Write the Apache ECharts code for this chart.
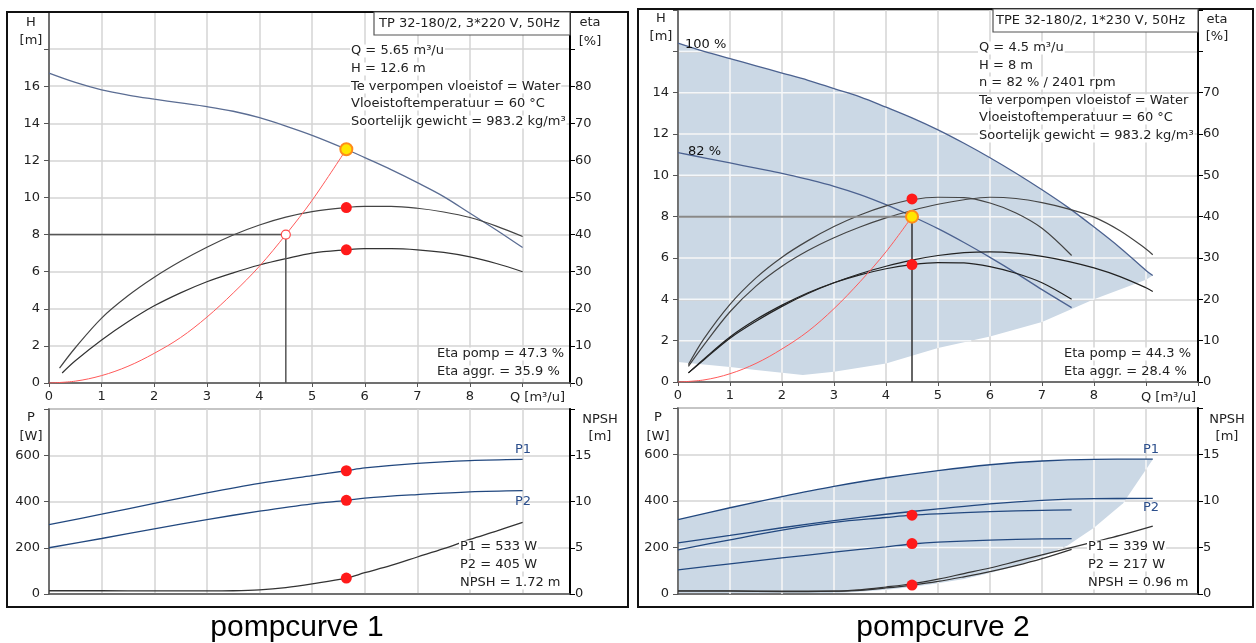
<!DOCTYPE html>
<html><head><meta charset="utf-8">
<script src="https://cdn.jsdelivr.net/npm/echarts@6/dist/echarts.min.js"></script>
<style>html,body{margin:0;padding:0;background:#fff}#c{width:1256px;height:643px}</style>
</head><body><div id="c"></div><script>
const FONT = '"DejaVu Sans", Verdana, sans-serif';
const CAPFONT = '"Liberation Sans", Arial, sans-serif';
// ---------- tick labels ----------
const qTickLabels = [0,1,2,3,4,5,6,7,8];
const hTickLabels1 = [0,2,4,6,8,10,12,14,16];
const etaTickLabels1 = [0,10,20,30,40,50,60,70,80];
const hTickLabels2 = [0,2,4,6,8,10,12,14];
const etaTickLabels2 = [0,10,20,30,40,50,60,70];
const pTickLabels = [0,200,400,600];
const npshTickLabels = [0,5,10,15];
const qGrid = [1,2,3,4,5,6,7,8,9];
const hGrid2 = [2,4,6,8,10,12,14,16];
const pGrid = [200,400,600];

// ---------- pompcurve 1 ----------
const p1_hQ = [0,0.5,1,1.5,2,2.5,3,3.5,4,4.5,5,5.65,6,6.5,7,7.5,8,8.5,9];
const p1_h  = [16.7,16.2,15.8,15.52,15.3,15.1,14.9,14.65,14.3,13.85,13.35,12.6,12.15,11.5,10.8,10.05,9.15,8.25,7.3];
const p1_etaQ = [0.2,0.5,1,1.5,2,2.5,3,3.5,4,4.5,5,5.65,6,6.5,7,7.5,8,8.5,9];
const p1_etaPomp = [4,9.5,17.5,23.5,28.5,32.8,36.6,39.9,42.6,44.7,46.2,47.3,47.6,47.6,47.1,46.1,44.6,42.3,39.5];
const p1_aggrQ = [0.25,0.5,1,1.5,2,2.5,3,3.5,4,4.5,5,5.65,6,6.5,7,7.5,8,8.5,9];
const p1_etaAggr = [2.7,6,11.6,16.5,20.8,24.3,27.3,29.7,31.8,33.5,35,35.9,36.2,36.2,35.9,35.2,34,32.2,30];
const p1_sysQ = [0,0.5,1,1.5,2,2.5,3,3.5,4,4.5,5,5.65];
const p1_sysH = [0,0.1,0.4,0.9,1.6,2.45,3.55,4.85,6.3,8.0,9.85,12.6];
const p1_opQ = [0,4.5,4.5];
const p1_opH = [8,8,0];
const p1_pQ = [0,1,2,3,4,5,5.65,6,7,8,9];
const p1_P1 = [300,345,392,437,478,512,533,545,565,577,582];
const p1_P2 = [200,240,282,322,358,390,405,415,430,442,447];
const p1_nQ = [0,1,2,3,3.5,4,4.5,5,5.65,6,6.5,7,7.5,8,8.5,9];
const p1_npsh = [0.35,0.35,0.33,0.33,0.35,0.45,0.7,1.1,1.72,2.3,3.1,4.0,4.9,5.9,6.8,7.75];
const p1_dutyQ = 5.65, p1_dutyH = 12.6, p1_dutyEtaPomp = 47.3, p1_dutyEtaAggr = 35.9;
const p1_dutyP1 = 533, p1_dutyP2 = 405, p1_dutyNpsh = 1.72;
const p1_reqQ = 4.5, p1_reqH = 8;

// ---------- pompcurve 2 ----------
const p2_h100Q = [0,0.5,1,1.5,2,2.5,3,3.5,4,4.5,5,5.5,6,6.5,7,7.5,8,8.5,9,9.13];
const p2_h100  = [16.4,16.0,15.65,15.3,14.95,14.6,14.2,13.8,13.3,12.78,12.2,11.55,10.85,10.1,9.3,8.45,7.5,6.5,5.4,5.15];
const p2_h82Q = [0,0.5,1,1.5,2,2.5,3,3.5,4,4.5,5,5.5,6,6.5,7,7.57];
const p2_h82  = [11.1,10.85,10.6,10.35,10.1,9.8,9.47,9.07,8.58,8.02,7.42,6.75,6.03,5.27,4.47,3.6];
const p2_minQ = [0,0.5,1,1.5,2,2.4,3,4,5,6,7,8,9,9.13];
const p2_minH = [0.97,0.85,0.72,0.58,0.45,0.34,0.5,0.9,1.65,2.2,2.9,4.0,4.95,5.15];
const p2_pomp82Q = [0.2,0.5,1,1.5,2,2.5,3,3.5,4,4.5,5,5.5,6,6.5,7,7.57];
const p2_pomp82 = [4.2,10.5,18.8,25.2,30.2,34.2,37.6,40.4,42.6,44.1,44.7,44.6,43.3,40.9,37.2,30.6];
const p2_pomp100Q = [0.2,0.5,1,1.5,2,2.5,3,3.5,4,4.5,5,5.5,6,6.5,7,7.5,8,8.5,9,9.13];
const p2_pomp100 = [3.8,9.0,17.0,23.2,28.0,31.8,34.9,37.5,39.7,41.5,43.0,44.1,44.7,44.4,43.4,41.9,39.9,36.6,32.2,30.8];
const p2_aggr82Q = [0.2,0.5,1,1.5,2,2.5,3,3.5,4,4.5,5,5.5,6,6.5,7,7.57];
const p2_aggr82 = [2.2,5.6,10.9,15.1,18.6,21.6,24.0,25.9,27.4,28.4,28.9,28.8,27.9,26.3,24.0,20.0];
const p2_aggr100Q = [0.2,0.5,1,1.5,2,2.5,3,3.5,4,4.5,5,5.5,6,6.5,7,7.5,8,8.5,9,9.13];
const p2_aggr100 = [2.2,5.4,10.6,14.7,18.3,21.4,24.0,26.2,28.0,29.5,30.6,31.3,31.5,31.2,30.4,29.2,27.6,25.5,22.8,21.9];
const p2_sysQ = [0,0.5,1,1.5,2,2.5,3,3.5,4,4.5];
const p2_sysH = [0,0.1,0.4,0.9,1.6,2.45,3.55,4.85,6.3,8.0];
const p2_opHQ = [0,4.5];
const p2_opHH = [8,8];
const p2_opVQ = [4.5,4.5];
const p2_opVH = [8,0];
const p2_p100Q = [0,1,2,3,4,5,6,7,8,9.13];
const p2_P1_100 = [320,371,419,463,500,531,556,572,579,580];
const p2_P2_100 = [220,252,285,316,343,366,388,403,410,411];
const p2_p82Q = [0,1,2,3,4,4.5,5,6,7,7.57];
const p2_P1_82 = [190,233,275,308,329,339,345,354,360,362];
const p2_P2_82 = [104,130,155,180,203,215,223,232,237,238];
const p2_pMinQ = [0,2,3,3.5,4,4.5,5,5.5,6,6.5,7,7.5,8,8.56,9.13];
const p2_pMin = [0,0,4,10,18,30,46,65,90,122,160,210,285,390,578];
const p2_n100Q = [0,1,2,3,3.5,4,4.5,5,5.5,6,6.5,7,7.5,8,8.5,9.13];
const p2_npsh100 = [0.35,0.35,0.3,0.3,0.45,0.75,1.1,1.6,2.2,2.8,3.5,4.2,4.9,5.6,6.3,7.3];
const p2_n82Q = [0,1,2,3,3.5,4,4.5,5,5.5,6,6.5,7,7.57];
const p2_npsh82 = [0.3,0.3,0.25,0.3,0.4,0.65,0.96,1.35,1.85,2.4,3.05,3.8,4.8];
const p2_dutyQ = 4.5, p2_dutyH = 8, p2_dutyEtaPomp = 44.3, p2_dutyEtaAggr = 28.4;
const p2_dutyP1 = 339, p2_dutyP2 = 217, p2_dutyNpsh = 0.96;

// ---------- helpers ----------
const zip = (xs, ys) => xs.map((x, i) => [x, ys[i]]);
function interp(xs, ys, x) {
  if (x <= xs[0]) return ys[0];
  for (let i = 1; i < xs.length; i++) {
    if (x <= xs[i]) { const t = (x - xs[i-1]) / (xs[i] - xs[i-1]); return ys[i-1] + t * (ys[i] - ys[i-1]); }
  }
  return ys[ys.length - 1];
}
const GRIDC = '#d4d4d4', SHADE = '#cbd8e5';

function xAx(grid, max, showLabels) {
  return {type:'value', gridIndex:grid, min:0, max:max, interval:1, z:2,
    axisLine:{show:true, onZero:false, lineStyle:{color:'#555', width:1.5}},
    axisTick:{show:showLabels, length:4, lineStyle:{color:'#555'}},
    axisLabel:{show:showLabels, color:'#222', fontSize:13, fontFamily:FONT, margin:7,
      formatter:v => qTickLabels.includes(v) ? String(v) : ''},
    splitLine:{show:true, lineStyle:{color:GRIDC, width:1.5}}};
}
function yAx(grid, pos, max, interval, labels, split) {
  const right = pos === 'right';
  return {type:'value', gridIndex:grid, position:pos, min:0, max:max, interval:interval, z:2,
    axisLine:{show:true, onZero:false, lineStyle:{color:right?'#000':'#555', width:right?2:1.5}},
    axisTick:{show:true, length:5, lineStyle:{color:right?'#000':'#555'}},
    axisLabel:{color:'#222', fontSize:13, fontFamily:FONT, margin:right ? 5 : 9,
      formatter:v => labels.includes(v) ? String(v) : ''},
    splitLine:{show:split, lineStyle:{color:GRIDC, width:1.5}}};
}
function line(xi, yi, xs, ys, color, width, z) {
  return {type:'line', xAxisIndex:xi, yAxisIndex:yi, data:zip(xs, ys), showSymbol:false, smooth:0.35,
    lineStyle:{color:color, width:width}, z:z || 3, silent:true};
}
function dots(xi, yi, pts, size, color, border, bw) {
  return {type:'scatter', xAxisIndex:xi, yAxisIndex:yi, data:pts, symbolSize:size, z:6, silent:true,
    itemStyle:{color:color, borderColor:border || color, borderWidth:bw || 0, opacity:1}};
}
function shadePoly(xi, yi, uQ, uV, lQ, lV) {
  return {type:'custom', xAxisIndex:xi, yAxisIndex:yi, data:[[0,0]], z:1, silent:true,
    renderItem:(p, api) => {
      const pts = [];
      for (let i = 0; i < uQ.length; i++) pts.push(api.coord([uQ[i], uV[i]]));
      for (let i = lQ.length - 1; i >= 0; i--) pts.push(api.coord([lQ[i], lV[i]]));
      return {type:'polygon', shape:{points:pts}, style:{fill:SHADE, stroke:null}};
    }};
}
function shadeGrid(xi, yi, uQ, uV, lQ, lV, vLines, hLines) {
  return {type:'custom', xAxisIndex:xi, yAxisIndex:yi, data:[[0,0]], z:2.5, silent:true,
    renderItem:(p, api) => {
      const ch = [];
      const qmax = Math.min(uQ[uQ.length-1], lQ[lQ.length-1]);
      const seg = (a, b) => ch.push({type:'line', shape:{x1:a[0], y1:a[1], x2:b[0], y2:b[1]},
        style:{stroke:'#f4f7fa', lineWidth:1.5}});
      vLines.forEach(q => { if (q < qmax) seg(api.coord([q, interp(lQ, lV, q)]), api.coord([q, interp(uQ, uV, q)])); });
      const st = 0.005;
      hLines.forEach(v => {
        let s = null;
        for (let q = 0.02; q <= qmax + 1e-9; q += st) {
          const inside = interp(lQ, lV, q) < v && interp(uQ, uV, q) > v;
          if (inside && s === null) s = q;
          if (s !== null && (!inside || q + st > qmax)) { seg(api.coord([s, v]), api.coord([q, v])); s = null; }
        }
      });
      return {type:'group', children:ch};
    }};
}
function txt(x, y, s, opts) {
  opts = opts || {};
  const style = {text:s, fill:opts.color || '#222', font:(opts.size || 13) + 'px ' + (opts.font || FONT),
    textAlign:opts.align || 'left', align:opts.align || 'left',
    textVerticalAlign:'middle', verticalAlign:'middle'};
  if (opts.bg) { style.backgroundColor = '#fff'; style.padding = [0, 1]; }
  return {type:'text', x:x, y:y, z:100, style:style};
}

// ---------- option ----------
const option = {
  animation:false,
  grid:[
    {left:49, top:12, width:521, height:371, show:true, borderColor:'#666', borderWidth:1.5},
    {left:49, top:409, width:521, height:185, show:true, borderColor:'#777', borderWidth:1.5},
    {left:678, top:10, width:520, height:372, show:true, borderColor:'#666', borderWidth:1.5},
    {left:678, top:408, width:520, height:186, show:true, borderColor:'#777', borderWidth:1.5}
  ],
  xAxis:[xAx(0, 9.9, true), xAx(1, 9.9, false), xAx(2, 10, true), xAx(3, 10, false)],
  yAxis:[
    yAx(0, 'left', 20, 2, hTickLabels1, true),
    yAx(0, 'right', 100, 10, etaTickLabels1, false),
    yAx(1, 'left', 800, 200, pTickLabels, true),
    yAx(1, 'right', 20, 5, npshTickLabels, false),
    yAx(2, 'left', 18, 2, hTickLabels2, true),
    yAx(2, 'right', 90, 10, etaTickLabels2, false),
    yAx(3, 'left', 800, 200, pTickLabels, true),
    yAx(3, 'right', 20, 5, npshTickLabels, false)
  ],
  series:[
    // panel 1 top
    line(0, 0, p1_hQ, p1_h, '#5b6d93', 1.3),
    line(0, 1, p1_etaQ, p1_etaPomp, '#444', 1.2),
    line(0, 1, p1_aggrQ, p1_etaAggr, '#333', 1.2),
    line(0, 0, p1_sysQ, p1_sysH, '#ff5a5a', 1),
    {type:'line', xAxisIndex:0, yAxisIndex:0, data:zip(p1_opQ, p1_opH), showSymbol:false, z:3, silent:true, lineStyle:{color:'#555', width:1.5}},
    dots(0, 0, [[p1_reqQ, p1_reqH]], 9, '#fff', '#ff4a4a', 1.2),
    dots(0, 0, [[p1_dutyQ, p1_dutyH]], 12, '#ffe600', '#ff8c1a', 2),
    dots(0, 1, [[p1_dutyQ, p1_dutyEtaPomp], [p1_dutyQ, p1_dutyEtaAggr]], 11, '#ff1a1a'),
    // panel 1 bottom
    line(1, 2, p1_pQ, p1_P1, '#22487f', 1.3),
    line(1, 2, p1_pQ, p1_P2, '#22487f', 1.3),
    line(1, 3, p1_nQ, p1_npsh, '#333', 1.3),
    dots(1, 2, [[p1_dutyQ, p1_dutyP1], [p1_dutyQ, p1_dutyP2]], 11, '#ff1a1a'),
    dots(1, 3, [[p1_dutyQ, p1_dutyNpsh]], 11, '#ff1a1a'),
    // panel 2 top
    shadePoly(2, 4, p2_h100Q, p2_h100, p2_minQ, p2_minH),
    shadeGrid(2, 4, p2_h100Q, p2_h100, p2_minQ, p2_minH, qGrid, hGrid2),
    line(2, 4, p2_h100Q, p2_h100, '#4c6290', 1.3),
    line(2, 4, p2_h82Q, p2_h82, '#4c6290', 1.3),
    line(2, 5, p2_pomp82Q, p2_pomp82, '#444', 1.2),
    line(2, 5, p2_pomp100Q, p2_pomp100, '#444', 1.2),
    line(2, 5, p2_aggr82Q, p2_aggr82, '#222', 1.2),
    line(2, 5, p2_aggr100Q, p2_aggr100, '#222', 1.2),
    line(2, 4, p2_sysQ, p2_sysH, '#ff5a5a', 1),
    {type:'line', xAxisIndex:2, yAxisIndex:4, data:zip(p2_opHQ, p2_opHH), showSymbol:false, z:3, silent:true, lineStyle:{color:'#888', width:2}},
    {type:'line', xAxisIndex:2, yAxisIndex:4, data:zip(p2_opVQ, p2_opVH), showSymbol:false, z:3, silent:true, lineStyle:{color:'#333', width:1.5}},
    dots(2, 4, [[p2_dutyQ, p2_dutyH]], 12, '#ffe600', '#ff8c1a', 2),
    dots(2, 5, [[p2_dutyQ, p2_dutyEtaPomp], [p2_dutyQ, p2_dutyEtaAggr]], 11, '#ff1a1a'),
    // panel 2 bottom
    shadePoly(3, 6, p2_p100Q, p2_P1_100, p2_pMinQ, p2_pMin),
    shadeGrid(3, 6, p2_p100Q, p2_P1_100, p2_pMinQ, p2_pMin, qGrid, pGrid),
    line(3, 6, p2_p100Q, p2_P1_100, '#22487f', 1.3),
    line(3, 6, p2_p100Q, p2_P2_100, '#22487f', 1.3),
    line(3, 6, p2_p82Q, p2_P1_82, '#22487f', 1.3),
    line(3, 6, p2_p82Q, p2_P2_82, '#22487f', 1.3),
    line(3, 7, p2_n100Q, p2_npsh100, '#333', 1.2),
    line(3, 7, p2_n82Q, p2_npsh82, '#333', 1.2),
    dots(3, 6, [[p2_dutyQ, p2_dutyP1], [p2_dutyQ, p2_dutyP2]], 11, '#ff1a1a'),
    dots(3, 7, [[p2_dutyQ, p2_dutyNpsh]], 11, '#ff1a1a')
  ],
  graphic:{elements:[
    {type:'rect', z:90, shape:{x:7, y:12, width:621, height:595}, style:{fill:'none', stroke:'#111', lineWidth:2}},
    {type:'rect', z:90, shape:{x:638, y:9, width:615, height:598}, style:{fill:'none', stroke:'#111', lineWidth:2}},
    {type:'rect', z:95, shape:{x:374, y:12, width:196, height:23}, style:{fill:'#fff', stroke:'#555', lineWidth:1.2}},
    {type:'rect', z:95, shape:{x:993, y:9, width:205, height:23}, style:{fill:'#fff', stroke:'#555', lineWidth:1.2}},
    txt(379, 24, 'TP 32-180/2, 3*220 V, 50Hz'),
    txt(996, 21, 'TPE 32-180/2, 1*230 V, 50Hz'),
    // panel 1 info
    txt(350, 51, 'Q = 5.65 m³/u', {bg:1}),
    txt(350, 69, 'H = 12.6 m', {bg:1}),
    txt(350, 87, 'Te verpompen vloeistof = Water', {bg:1}),
    txt(350, 104, 'Vloeistoftemperatuur = 60 °C', {bg:1}),
    txt(350, 122, 'Soortelijk gewicht = 983.2 kg/m³', {bg:1}),
    txt(436, 354, 'Eta pomp = 47.3 %', {bg:1}),
    txt(436, 372, 'Eta aggr. = 35.9 %', {bg:1}),
    txt(459, 547, 'P1 = 533 W', {bg:1}),
    txt(459, 565, 'P2 = 405 W', {bg:1}),
    txt(459, 583, 'NPSH = 1.72 m', {bg:1}),
    // panel 2 info
    txt(978, 48, 'Q = 4.5 m³/u', {bg:1}),
    txt(978, 66, 'H = 8 m', {bg:1}),
    txt(978, 83, 'n = 82 % / 2401 rpm', {bg:1}),
    txt(978, 101, 'Te verpompen vloeistof = Water', {bg:1}),
    txt(978, 118, 'Vloeistoftemperatuur = 60 °C', {bg:1}),
    txt(978, 136, 'Soortelijk gewicht = 983.2 kg/m³', {bg:1}),
    txt(1063, 354, 'Eta pomp = 44.3 %', {bg:1}),
    txt(1063, 372, 'Eta aggr. = 28.4 %', {bg:1}),
    txt(1087, 547, 'P1 = 339 W', {bg:1}),
    txt(1087, 565, 'P2 = 217 W', {bg:1}),
    txt(1087, 583, 'NPSH = 0.96 m', {bg:1}),
    // curve labels
    txt(685, 45, '100 %', {color:'#111'}),
    txt(688, 152, '82 %', {color:'#111'}),
    txt(523, 450, 'P1', {align:'center', color:'#2c4f8c'}),
    txt(523, 502, 'P2', {align:'center', color:'#2c4f8c'}),
    txt(1151, 450, 'P1', {align:'center', color:'#2c4f8c'}),
    txt(1151, 508, 'P2', {align:'center', color:'#2c4f8c'}),
    // axis titles
    txt(31, 23, 'H', {align:'center'}), txt(31, 41, '[m]', {align:'center'}),
    txt(590, 23, 'eta', {align:'center'}), txt(590, 42, '[%]', {align:'center'}),
    txt(31, 418, 'P', {align:'center'}), txt(31, 437, '[W]', {align:'center'}),
    txt(600, 420, 'NPSH', {align:'center'}), txt(600, 437, '[m]', {align:'center'}),
    txt(661, 19, 'H', {align:'center'}), txt(661, 37, '[m]', {align:'center'}),
    txt(1217, 20, 'eta', {align:'center'}), txt(1217, 37, '[%]', {align:'center'}),
    txt(658, 418, 'P', {align:'center'}), txt(658, 437, '[W]', {align:'center'}),
    txt(1227, 420, 'NPSH', {align:'center'}), txt(1227, 437, '[m]', {align:'center'}),
    txt(510, 398, 'Q [m³/u]'),
    txt(1141, 398, 'Q [m³/u]'),
    // captions
    txt(297, 628, 'pompcurve 1', {align:'center', size:30, color:'#000', font:CAPFONT}),
    txt(943, 628, 'pompcurve 2', {align:'center', size:30, color:'#000', font:CAPFONT})
  ]}
};
const chart = echarts.init(document.getElementById('c'));
chart.setOption(option);
</script></body></html>
